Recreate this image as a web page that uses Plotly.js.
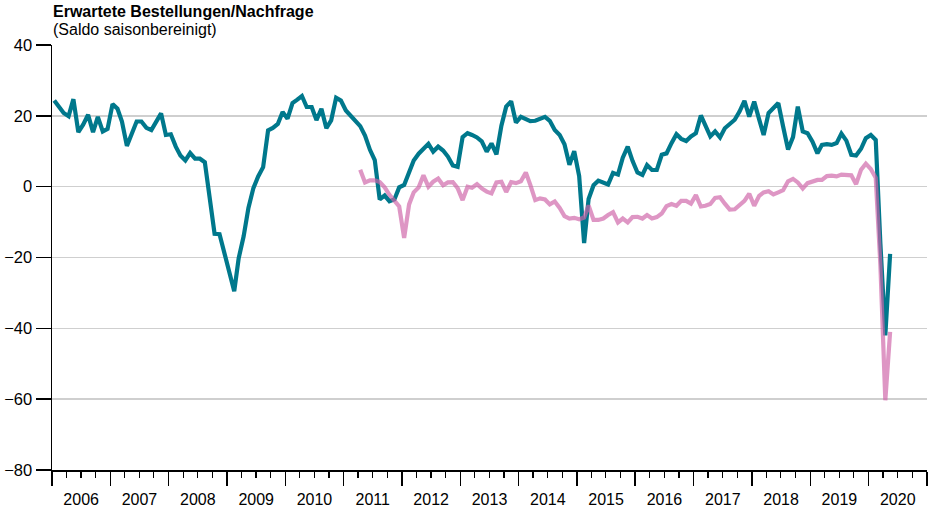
<!DOCTYPE html>
<html>
<head>
<meta charset="utf-8">
<script src="https://cdn.plot.ly/plotly-3.0.1.min.js"></script>
<style>
  html, body { margin: 0; padding: 0; background: #fff; }
  #chart { width: 930px; height: 521px; }
</style>
</head>
<body>
<div id="chart"></div>
<script>
// ---- Data (monthly, saldo saisonbereinigt) ----
const titleText = "Erwartete Bestellungen/Nachfrage";
const subtitleText = "(Saldo saisonbereinigt)";

// Series 1 (teal): Jan 2006 – May 2020
const tealStart = "2006-01";
const tealValues = [
  24.3, 22.3, 20.8, 19.9, 24.7, 15.4, 17.5, 20.3, 15.4, 19.7, 15.6, 16.3,
  23.3, 22.0, 18.4, 11.5, 15.1, 18.4, 18.4, 16.6, 16.0, 18.1, 20.7, 14.6,
  14.8, 11.3, 8.8, 7.4, 9.5, 7.9, 7.9, 6.9, -3.5, -13.3, -13.4, -18.5,
  -23.5, -29.5, -20.2, -14.0, -6.0, -0.4, 2.9, 5.5, 15.9, 16.6, 17.7, 21.1,
  19.2, 23.6, 24.5, 25.6, 22.5, 22.5, 18.8, 22.0, 16.5, 18.7, 25.1, 24.3,
  21.5, 20.0, 18.8, 17.1, 14.4, 10.4, 7.5, -3.6, -2.5, -4.1, -3.6, -0.2,
  0.5, 4.0, 7.4, 9.3, 10.8, 12.1, 9.9, 11.3, 10.2, 8.5, 6.0, 5.6,
  14.0, 15.1, 14.6, 13.9, 12.8, 9.9, 12.2, 9.1, 17.2, 22.6, 24.1, 18.1,
  19.7, 19.0, 18.5, 18.6, 19.0, 19.7, 18.6, 16.0, 14.6, 12.0, 6.2, 10.0,
  3.0, -15.9, -3.5, 0.4, 1.7, 1.0, 0.6, 3.9, 3.4, 8.2, 11.3, 7.3,
  4.0, 3.3, 6.1, 4.7, 4.7, 9.0, 9.4, 12.3, 14.8, 13.5, 12.9, 14.2,
  15.1, 20.1, 17.0, 14.2, 15.6, 13.9, 16.5, 17.6, 18.9, 21.2, 24.2, 19.8,
  24.0, 19.0, 14.6, 20.8, 22.2, 23.6, 17.0, 10.5, 14.0, 22.6, 15.6, 15.1,
  12.7, 9.4, 11.8, 12.0, 11.8, 12.3, 15.0, 13.0, 9.0, 8.8, 10.7, 13.7,
  14.6, 13.2, -16.0, -42.0, -19.0
];

// Series 2 (pink): Apr 2011 – May 2020
const pinkStart = "2011-04";
const pinkValues = [
  4.8, 1.2, 1.8, 1.8, 1.3, -0.2, -2.3, -4.2, -5.6,
  -14.5, -5.0, -1.6, -0.2, 3.2, 0.0, 1.4, 2.3, 0.4, 1.2, 1.3, -0.4,
  -3.8, 0.0, -0.3, 0.7, -0.5, -1.4, -1.9, 1.2, 1.4, -1.5, 1.3, 1.0,
  1.5, 4.0, 0.5, -3.8, -3.3, -3.6, -5.0, -4.2, -6.0, -8.3, -9.0, -8.8,
  -9.2, -8.7, -5.3, -9.4, -9.4, -9.0, -8.0, -7.2, -10.1, -9.0, -10.1, -8.6,
  -8.5, -9.0, -8.0, -9.0, -8.6, -7.6, -5.5, -4.9, -5.4, -4.0, -4.0, -4.8,
  -2.4, -5.6, -5.4, -4.9, -3.2, -3.0, -4.8, -6.5, -6.4, -5.4, -4.0, -2.0,
  -5.4, -2.6, -1.6, -1.3, -2.2, -1.6, -1.0, 1.5, 2.2, 1.2, -0.5, 1.0,
  1.6, 1.9, 1.9, 3.0, 3.1, 2.9, 3.4, 3.4, 3.2, 0.7, 4.8, 6.5,
  5.0, 2.5, -22.0, -60.3, -41.0
];

const yTickValues = [40, 20, 0, -20, -40, -60, -80];

// monthly dates (mid-month) from a "YYYY-MM" start
function monthDates(start, n) {
  let [y, m] = start.split("-").map(Number);
  const out = [];
  for (let i = 0; i < n; i++) {
    out.push(y + "-" + String(m).padStart(2, "0") + "-15");
    m++; if (m > 12) { m = 1; y++; }
  }
  return out;
}

const font = "Liberation Sans, Arial, Helvetica, sans-serif";

const traces = [
  {
    x: monthDates(tealStart, tealValues.length), y: tealValues,
    type: "scatter", mode: "lines",
    line: { color: "#00788c", width: 4.2, shape: "linear" },
    hoverinfo: "skip"
  },
  {
    x: monthDates(pinkStart, pinkValues.length), y: pinkValues,
    type: "scatter", mode: "lines",
    line: { color: "rgba(206,100,168,0.68)", width: 4.2 },
    hoverinfo: "skip"
  }
];

const layout = {
  width: 930, height: 521,
  margin: { l: 52, r: 3, t: 45, b: 51, pad: 0 },
  paper_bgcolor: "#fff", plot_bgcolor: "#fff",
  showlegend: false,
  font: { family: font, size: 16, color: "#000" },
  xaxis: {
    type: "date",
    range: ["2006-01-01", "2021-01-01"],
    dtick: "M12", tick0: "2006-01-01",
    tickformat: "%Y",
    ticklabelmode: "period",
    ticks: "outside", ticklen: 14, tickwidth: 1.5, tickcolor: "#000",
    minor: { dtick: "M3", ticks: "outside", ticklen: 6, tickwidth: 1.2, tickcolor: "#000", showgrid: false },
    showgrid: false, zeroline: false,
    showline: true, linecolor: "#000", linewidth: 1.5,
    tickfont: { family: font, size: 16, color: "#000" },
    automargin: false, fixedrange: true
  },
  yaxis: {
    range: [-80, 40],
    tickvals: yTickValues,
    ticks: "outside", ticklen: 15, tickwidth: 1.5, tickcolor: "#000",
    showgrid: true, gridcolor: "#cfcfcf", gridwidth: 1.5,
    zeroline: false,
    showline: true, linecolor: "#000", linewidth: 1.5,
    tickfont: { family: font, size: 16.5, color: "#000" },
    automargin: false, fixedrange: true
  },
  annotations: [
    { text: "<b>" + titleText + "</b>", xref: "paper", yref: "paper", x: 0, y: 1,
      xanchor: "left", yanchor: "bottom", yshift: 23, xshift: -1,
      showarrow: false, align: "left", font: { family: font, size: 16, color: "#000" } },
    { text: subtitleText, xref: "paper", yref: "paper", x: 0, y: 1,
      xanchor: "left", yanchor: "bottom", yshift: 5, xshift: -1,
      showarrow: false, align: "left", font: { family: font, size: 16, color: "#000" } }
  ]
};

Plotly.newPlot("chart", traces, layout, { staticPlot: true, displayModeBar: false });
</script>
</body>
</html>
